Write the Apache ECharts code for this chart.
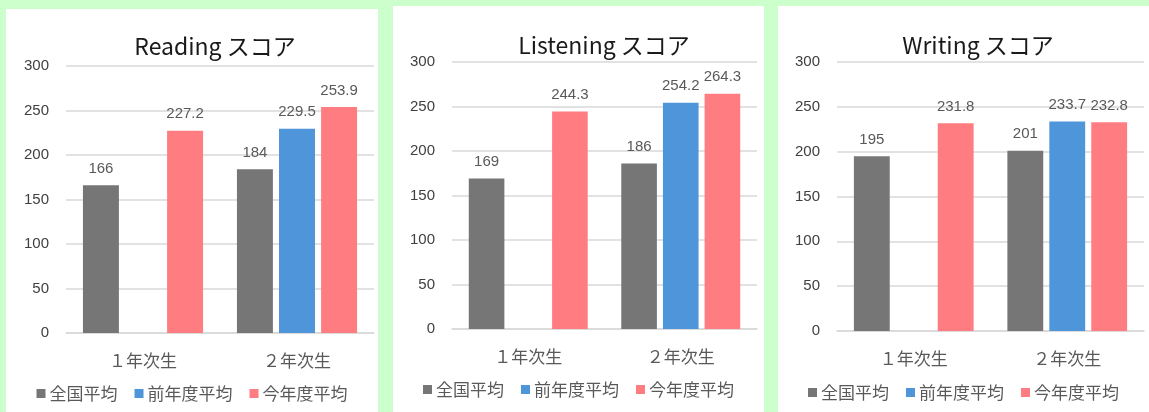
<!DOCTYPE html>
<html><head><meta charset="utf-8">
<script src="https://cdn.jsdelivr.net/npm/echarts@6/dist/echarts.min.js"></script>
<style>
html,body{margin:0;padding:0;width:1149px;height:412px;background:#ccffcc;overflow:hidden;}
.p{position:absolute;background:#fff;}
</style></head><body>
<div id="c1" class="p" style="left:6px;top:9px;width:372px;height:403px;"></div>
<div id="c2" class="p" style="left:393px;top:6px;width:371px;height:406px;"></div>
<div id="c3" class="p" style="left:778px;top:6px;width:371px;height:406px;"></div>
<script>
const categories = ['１年次生', '２年次生'];
const seriesNames = ['全国平均', '前年度平均', '今年度平均'];
const titles = ['Reading スコア', 'Listening スコア', 'Writing スコア'];
const yTicks = [0, 50, 100, 150, 200, 250, 300];

const readingNational = [166, 184];
const readingPrev = [null, 229.5];
const readingThis = [227.2, 253.9];

const listeningNational = [169, 186];
const listeningPrev = [null, 254.2];
const listeningThis = [244.3, 264.3];

const writingNational = [195, 201];
const writingPrev = [null, 233.7];
const writingThis = [231.8, 232.8];

const colors = ['#767676', '#4f95d9', '#ff7c80'];

function build(id, title, data, lay) {
  const chart = echarts.init(document.getElementById(id));
  chart.setOption({
    animation: false,
    title: {
      text: title, left: lay.titleX, top: lay.titleY, textAlign: 'center',
      textStyle: {fontFamily: 'Noto Sans CJK JP', fontSize: 23, fontWeight: 'normal', color: '#1a1a1a'}
    },
    legend: {
      data: seriesNames, left: 'center', top: lay.legendY,
      icon: 'rect', itemWidth: 9, itemHeight: 9, itemGap: 17,
      textStyle: {fontFamily: 'Noto Sans CJK JP', fontSize: 17, color: '#595959', padding: [0, 0, 0, -1]}
    },
    grid: {left: lay.left, right: lay.right, top: lay.top, bottom: lay.bottom, containLabel: false},
    xAxis: {
      type: 'category', data: categories,
      axisLine: {lineStyle: {color: '#d9d9d9', width: 1.5}},
      axisTick: {show: false},
      axisLabel: {fontFamily: 'Noto Sans CJK JP', fontSize: 17, color: '#595959', margin: 19}
    },
    yAxis: {
      type: 'value', min: yTicks[0], max: yTicks[yTicks.length - 1], interval: yTicks[1] - yTicks[0],
      axisLine: {show: false}, axisTick: {show: false},
      splitLine: {lineStyle: {color: '#d9d9d9', width: 1.5}},
      axisLabel: {fontFamily: 'Liberation Sans', fontSize: 15, color: '#404040', margin: 17}
    },
    series: seriesNames.map((n, i) => ({
      name: n, type: 'bar', data: data[i], barGap: '17%', barCategoryGap: '22%',
      itemStyle: {color: colors[i]},
      label: {show: true, position: 'top', distance: 9, fontFamily: 'Liberation Sans', fontSize: 15, color: '#595959'}
    }))
  });
}

build('c1', titles[0], [readingNational, readingPrev, readingThis],
  {titleX: 204, titleY: 21, legendY: 371, left: 60, right: 4, top: 57, bottom: 79});
build('c2', titles[1], [listeningNational, listeningPrev, listeningThis],
  {titleX: 206, titleY: 23, legendY: 370, left: 59, right: 7, top: 56, bottom: 83});
build('c3', titles[2], [writingNational, writingPrev, writingThis],
  {titleX: 195, titleY: 23, legendY: 373, left: 59, right: 5, top: 56, bottom: 81});
</script>
</body></html>
